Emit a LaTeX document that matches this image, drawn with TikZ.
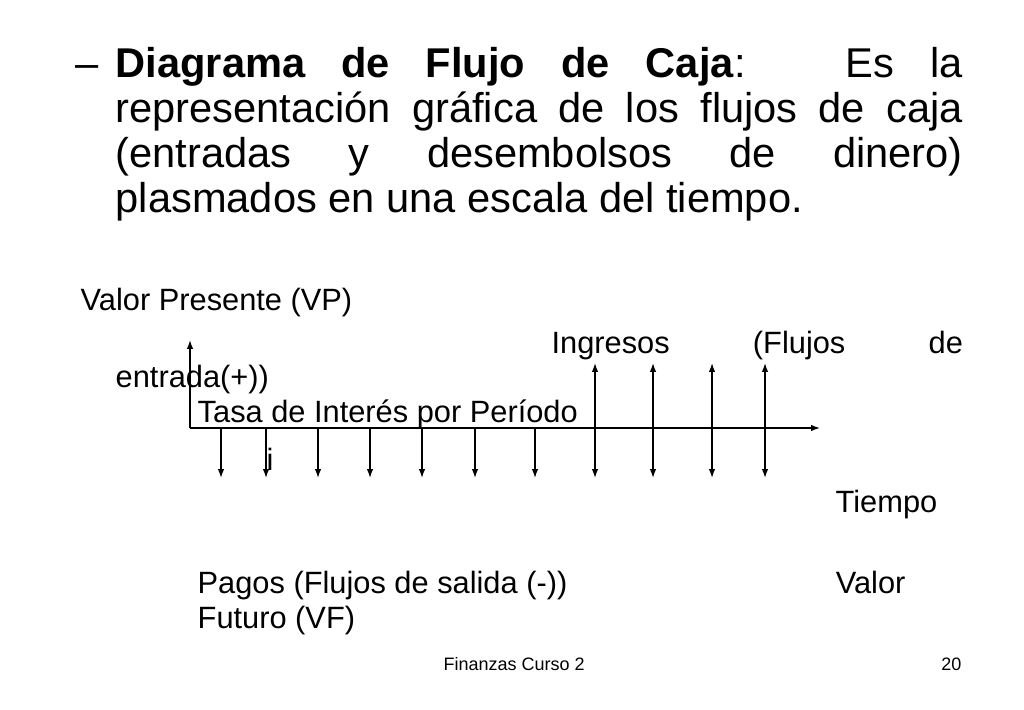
\documentclass[tikz,border=0pt]{standalone}
\usepackage{fontspec}
\setmainfont{Liberation Sans}
\usetikzlibrary{arrows.meta}
\tikzset{
	every path/.style = {line width=1pt},
	every node/.style = {inner sep=0pt, anchor=base west},
	flecha/.style = {-{Latex[length=2.2mm,width=1.6mm]}},
	titulo/.style = {font=\fontsize{29.6}{32}\selectfont},
	texto/.style = {font=\fontsize{21.9}{24.5}\selectfont},
	pie/.style = {font=\fontsize{12.8}{14}\selectfont}
}

\begin{document}
\begin{tikzpicture}[x=0.025cm, y=-0.025cm]
	\useasboundingbox (0,0) rectangle (1024,709);
	% definicion
	\node (guion) [titulo] at (75,78) {--};
	\node (def) [titulo, text width=21.175cm, align=justify] at (115,78)
		{\textbf{Diagrama de Flujo de Caja}:~ Es la\linebreak
		representación gráfica de los flujos de caja\linebreak
		(entradas y desembolsos de dinero)\linebreak
		plasmados en una escala del tiempo.};
	% textos del diagrama
	\node (vp) [texto] at (80,310) {Valor Presente (VP)};
	\node (ingresos) [texto, text width=21.175cm, align=justify] at (115,353)
		{\hspace*{310pt}Ingresos\hfill(Flujos\hfill de\\entrada(+))};
	\node (tasa) [texto] at (197,422) {Tasa de Interés por Período};
	\node (i) [texto] at (266,470) {i};
	\node (tiempo) [texto] at (835,512) {Tiempo};
	\node (pagos) [texto, align=left] at (197,628)
		{\makebox[453.8pt][l]{Pagos (Flujos de salida (-))}Valor\\Futuro (VF)};
	\node (curso) [pie] at (443,670) {Finanzas Curso 2};
	\node (pagina) [pie, anchor=base east] at (962,670) {20};
	% ejes
	\coordinate (origen) at (190,428);
	\coordinate (fin) at (820,428);
	\coordinate (arriba) at (190,340);
	\draw [flecha] (origen) -- (fin);
	\draw [flecha] (origen) -- (arriba);
	% puntos del eje y extremos de los flujos
	\coordinate (p1) at (221,428);  \coordinate (s1) at (221,478);
	\coordinate (p2) at (266,428);  \coordinate (s2) at (266,478);
	\coordinate (p3) at (318,428);  \coordinate (s3) at (318,478);
	\coordinate (p4) at (370,428);  \coordinate (s4) at (370,478);
	\coordinate (p5) at (422,428);  \coordinate (s5) at (422,478);
	\coordinate (p6) at (475,428);  \coordinate (s6) at (475,478);
	\coordinate (p7) at (535,428);  \coordinate (s7) at (535,478);
	\coordinate (p8) at (595,428);  \coordinate (s8) at (595,478);
	\coordinate (p9) at (653,428);  \coordinate (s9) at (653,478);
	\coordinate (p10) at (712,428); \coordinate (s10) at (712,478);
	\coordinate (p11) at (765,428); \coordinate (s11) at (765,478);
	\coordinate (e8) at (595,363);
	\coordinate (e9) at (653,363);
	\coordinate (e10) at (712,363);
	\coordinate (e11) at (765,363);
	% pagos
	\draw [flecha] (p1) -- (s1);
	\draw [flecha] (p2) -- (s2);
	\draw [flecha] (p3) -- (s3);
	\draw [flecha] (p4) -- (s4);
	\draw [flecha] (p5) -- (s5);
	\draw [flecha] (p6) -- (s6);
	\draw [flecha] (p7) -- (s7);
	\draw [flecha] (p8) -- (s8);
	\draw [flecha] (p9) -- (s9);
	\draw [flecha] (p10) -- (s10);
	\draw [flecha] (p11) -- (s11);
	% ingresos
	\draw [flecha] (p8) -- (e8);
	\draw [flecha] (p9) -- (e9);
	\draw [flecha] (p10) -- (e10);
	\draw [flecha] (p11) -- (e11);
\end{tikzpicture}
\end{document}
